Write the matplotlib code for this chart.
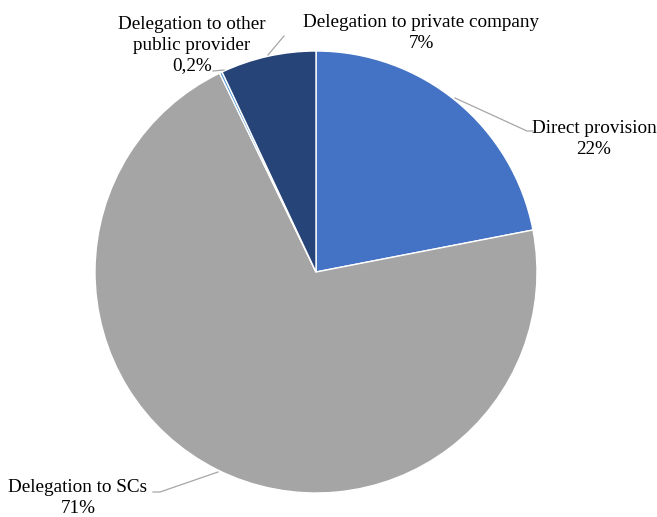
import matplotlib
matplotlib.use("Agg")
import matplotlib.pyplot as plt

categories = ["Direct provision", "Delegation to SCs", "Delegation to other\npublic provider", "Delegation to private company"]
values = [22, 71, 0.2, 7]
pct_labels = ["22%", "71%", "0,2%", "7%"]
colors = ["#4472C4", "#A5A5A5", "#5B9BD5", "#264478"]

plt.rcParams['font.family'] = ['Liberation Serif', 'DejaVu Serif']

W, H = 657, 517
fig = plt.figure(figsize=(W/100, H/100), dpi=100)
ax = fig.add_axes([0, 0, 1, 1])

cx, cy, r = 316, H - 272, 221
ax.pie(values, colors=colors, startangle=90, counterclock=False,
       center=(cx, cy), radius=r, frame=True,
       wedgeprops=dict(edgecolor='white', linewidth=1.0))
ax.set_xlim(0, W)
ax.set_ylim(0, H)
ax.set_aspect('equal')
ax.axis('off')

fs = 13.8
# label positions (pixel coords from top)
label_pos = [(594, 139), (78, 498), (192, 45), (421, 33)]
leaders = [
    [(455, 98), (527, 131), (533, 131)],
    [(218, 472), (160, 492), (153, 492)],
    [(224, 70), (213, 71)],
    [(268, 55), (284, 36)],
]
for cat, pct, (x, y), ld in zip(categories, pct_labels, label_pos, leaders):
    ax.text(x, H - y, f"{cat}\n{pct}", ha='center', va='center', fontsize=fs,
            color='black', linespacing=1.3)
    xs = [p[0] for p in ld]
    ys = [H - p[1] for p in ld]
    ax.plot(xs, ys, color='#A6A6A6', lw=0.9)

fig.savefig("out.png", dpi=100, facecolor='white')
